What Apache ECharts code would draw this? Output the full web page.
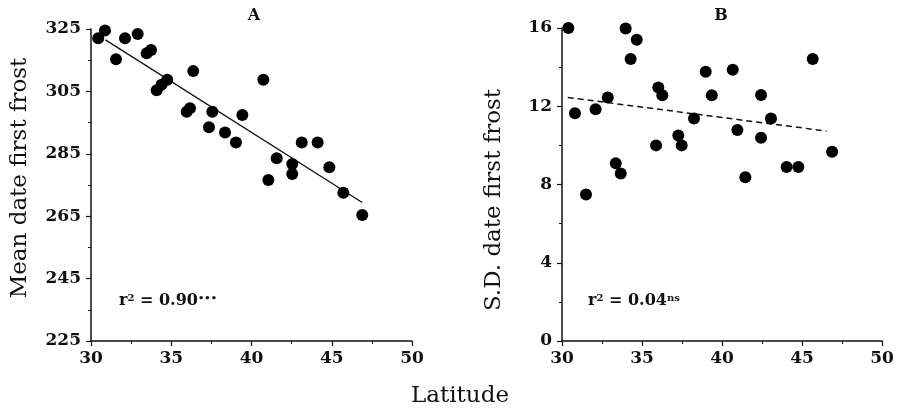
<!DOCTYPE html>
<html>
<head>
<meta charset="utf-8">
<script src="https://cdn.jsdelivr.net/npm/echarts@6/dist/echarts.min.js"></script>
<style>html,body{margin:0;padding:0;background:#fff;}#c{width:898px;height:408px;}</style>
</head>
<body>
<div id="c"></div>
<script>
// Panel A: mean date of first frost vs latitude
const latA  = [30.45,30.87,31.56,32.12,32.91,33.47,33.74,34.09,34.40,34.75,36.37,35.96,36.17,37.56,37.35,39.43,38.35,39.03,40.74,41.57,41.05,42.54,42.54,43.13,44.12,44.85,45.72,46.90];
const meanA = [322.0,324.5,315.3,322.0,323.4,317.2,318.3,305.4,307.1,308.7,311.5,298.5,299.6,298.5,293.5,297.4,291.8,288.6,308.7,283.6,276.6,281.7,278.5,288.6,288.6,280.7,272.5,265.4];
const fitLatA  = [30.9, 46.9];
const fitMeanA = [321.5, 269.4];
// Panel B: S.D. of date of first frost vs latitude
const latB = [30.40,30.81,31.50,32.10,32.86,33.36,33.67,33.98,34.67,34.29,36.02,36.27,35.88,37.27,37.48,38.25,38.98,39.36,40.67,42.44,43.06,40.96,42.44,46.88,44.04,44.77,41.46,45.67];
const sdB  = [16.0,11.64,7.49,11.85,12.45,9.08,8.56,15.98,15.40,14.41,12.96,12.56,10.00,10.51,10.00,11.37,13.76,12.56,13.86,12.58,11.37,10.78,10.39,9.68,8.89,8.89,8.37,14.41];
const fitLatB = [30.36, 46.54];
const fitSdB  = [12.45, 10.73];
// Tick labels
const yTicksA = [225,245,265,285,305,325];
const yMinorA = [235,255,275,295,315];
const yTicksB = [0,4,8,12,16];
const xTicks  = [30,35,40,45,50];

const zip = (a,b)=>a.map((v,i)=>[v,b[i]]);
const SERIF = 'DejaVu Serif';
const lab = {fontFamily:SERIF,fontWeight:'bold',fontSize:17,color:'#111'};

function xAxis(grid){
  return {type:'value',gridIndex:grid,min:xTicks[0],max:xTicks[xTicks.length-1],interval:5,
    axisLine:{lineStyle:{color:'#111',width:1.5}},
    axisTick:{length:5,inside:false,lineStyle:{color:'#111',width:1.2}},
    minorTick:{show:true,splitNumber:2,length:3,lineStyle:{color:'#111',width:1}},
    axisLabel:Object.assign({margin:9},lab),
    splitLine:{show:false}};
}
const rich = {a:{fontFamily:SERIF,fontWeight:'bold',fontSize:16,fill:'#111',color:'#111',verticalAlign:'bottom'},
              s:{fontFamily:SERIF,fontWeight:'bold',fontSize:10,fill:'#111',color:'#111',verticalAlign:'top'}};

const chart = echarts.init(document.getElementById('c'));
chart.setOption({
  animation:false,
  backgroundColor:'#fff',
  grid:[{left:91,top:29,width:321,height:312},{left:562,top:28,width:320,height:313}],
  xAxis:[xAxis(0),xAxis(1)],
  yAxis:[
    {type:'value',gridIndex:0,min:225,max:325,
      axisLine:{show:true,lineStyle:{color:'#111',width:1.5}},
      axisTick:{show:true,length:5,customValues:yTicksA,lineStyle:{color:'#111',width:1.2}},
      axisLabel:Object.assign({margin:10,customValues:yTicksA},lab),
      splitLine:{show:false}},
    {type:'value',gridIndex:0,min:225,max:325,position:'left',offset:0,
      axisLine:{show:false},
      axisTick:{show:true,length:3,customValues:yMinorA,lineStyle:{color:'#111',width:1}},
      axisLabel:{show:false},splitLine:{show:false}},
    {type:'value',gridIndex:1,min:yTicksB[0],max:yTicksB[yTicksB.length-1],interval:4,
      axisLine:{show:true,lineStyle:{color:'#111',width:1.5}},
      axisTick:{show:true,length:5,lineStyle:{color:'#111',width:1.2}},
      minorTick:{show:true,splitNumber:2,length:3,lineStyle:{color:'#111',width:1}},
      axisLabel:Object.assign({margin:10},lab),
      splitLine:{show:false}}
  ],
  series:[
    {type:'scatter',xAxisIndex:0,yAxisIndex:0,data:zip(latA,meanA),symbolSize:12,clip:false,itemStyle:{color:'#000',opacity:1},z:3},
    {type:'line',xAxisIndex:0,yAxisIndex:0,data:zip(fitLatA,fitMeanA),symbol:'none',lineStyle:{color:'#111',width:1.3},z:2},
    {type:'scatter',xAxisIndex:1,yAxisIndex:2,data:zip(latB,sdB),symbolSize:12,clip:false,itemStyle:{color:'#000',opacity:1},z:3},
    {type:'line',xAxisIndex:1,yAxisIndex:2,data:zip(fitLatB,fitSdB),symbol:'none',lineStyle:{color:'#111',width:1.5,type:[6,4]},z:2}
  ],
  graphic:[
    {type:'text',x:254,y:16,style:{text:'A',fill:'#111',font:'bold 16px "DejaVu Serif"',align:'center',verticalAlign:'middle'}},
    {type:'text',x:721,y:16,style:{text:'B',fill:'#111',font:'bold 16px "DejaVu Serif"',align:'center',verticalAlign:'middle'}},
    {type:'text',x:460,y:396,style:{text:'Latitude',fill:'#111',font:'23px "DejaVu Serif"',align:'center',verticalAlign:'middle'}},
    {type:'text',x:20,y:178,rotation:Math.PI/2,style:{text:'Mean date first frost',fill:'#111',font:'23px "DejaVu Serif"',align:'center',verticalAlign:'middle'}},
    {type:'text',x:494,y:200,rotation:Math.PI/2,style:{text:'S.D. date first frost',fill:'#111',font:'23px "DejaVu Serif"',align:'center',verticalAlign:'middle'}},
    {type:'text',x:119,y:301,style:{text:'{a|r}{s|2}{a| = 0.90}{s|•••}',verticalAlign:'middle',rich:rich}},
    {type:'text',x:588,y:301,style:{text:'{a|r}{s|2}{a| = 0.04}{s|ns}',verticalAlign:'middle',rich:rich}}
  ]
});
</script>
</body>
</html>
